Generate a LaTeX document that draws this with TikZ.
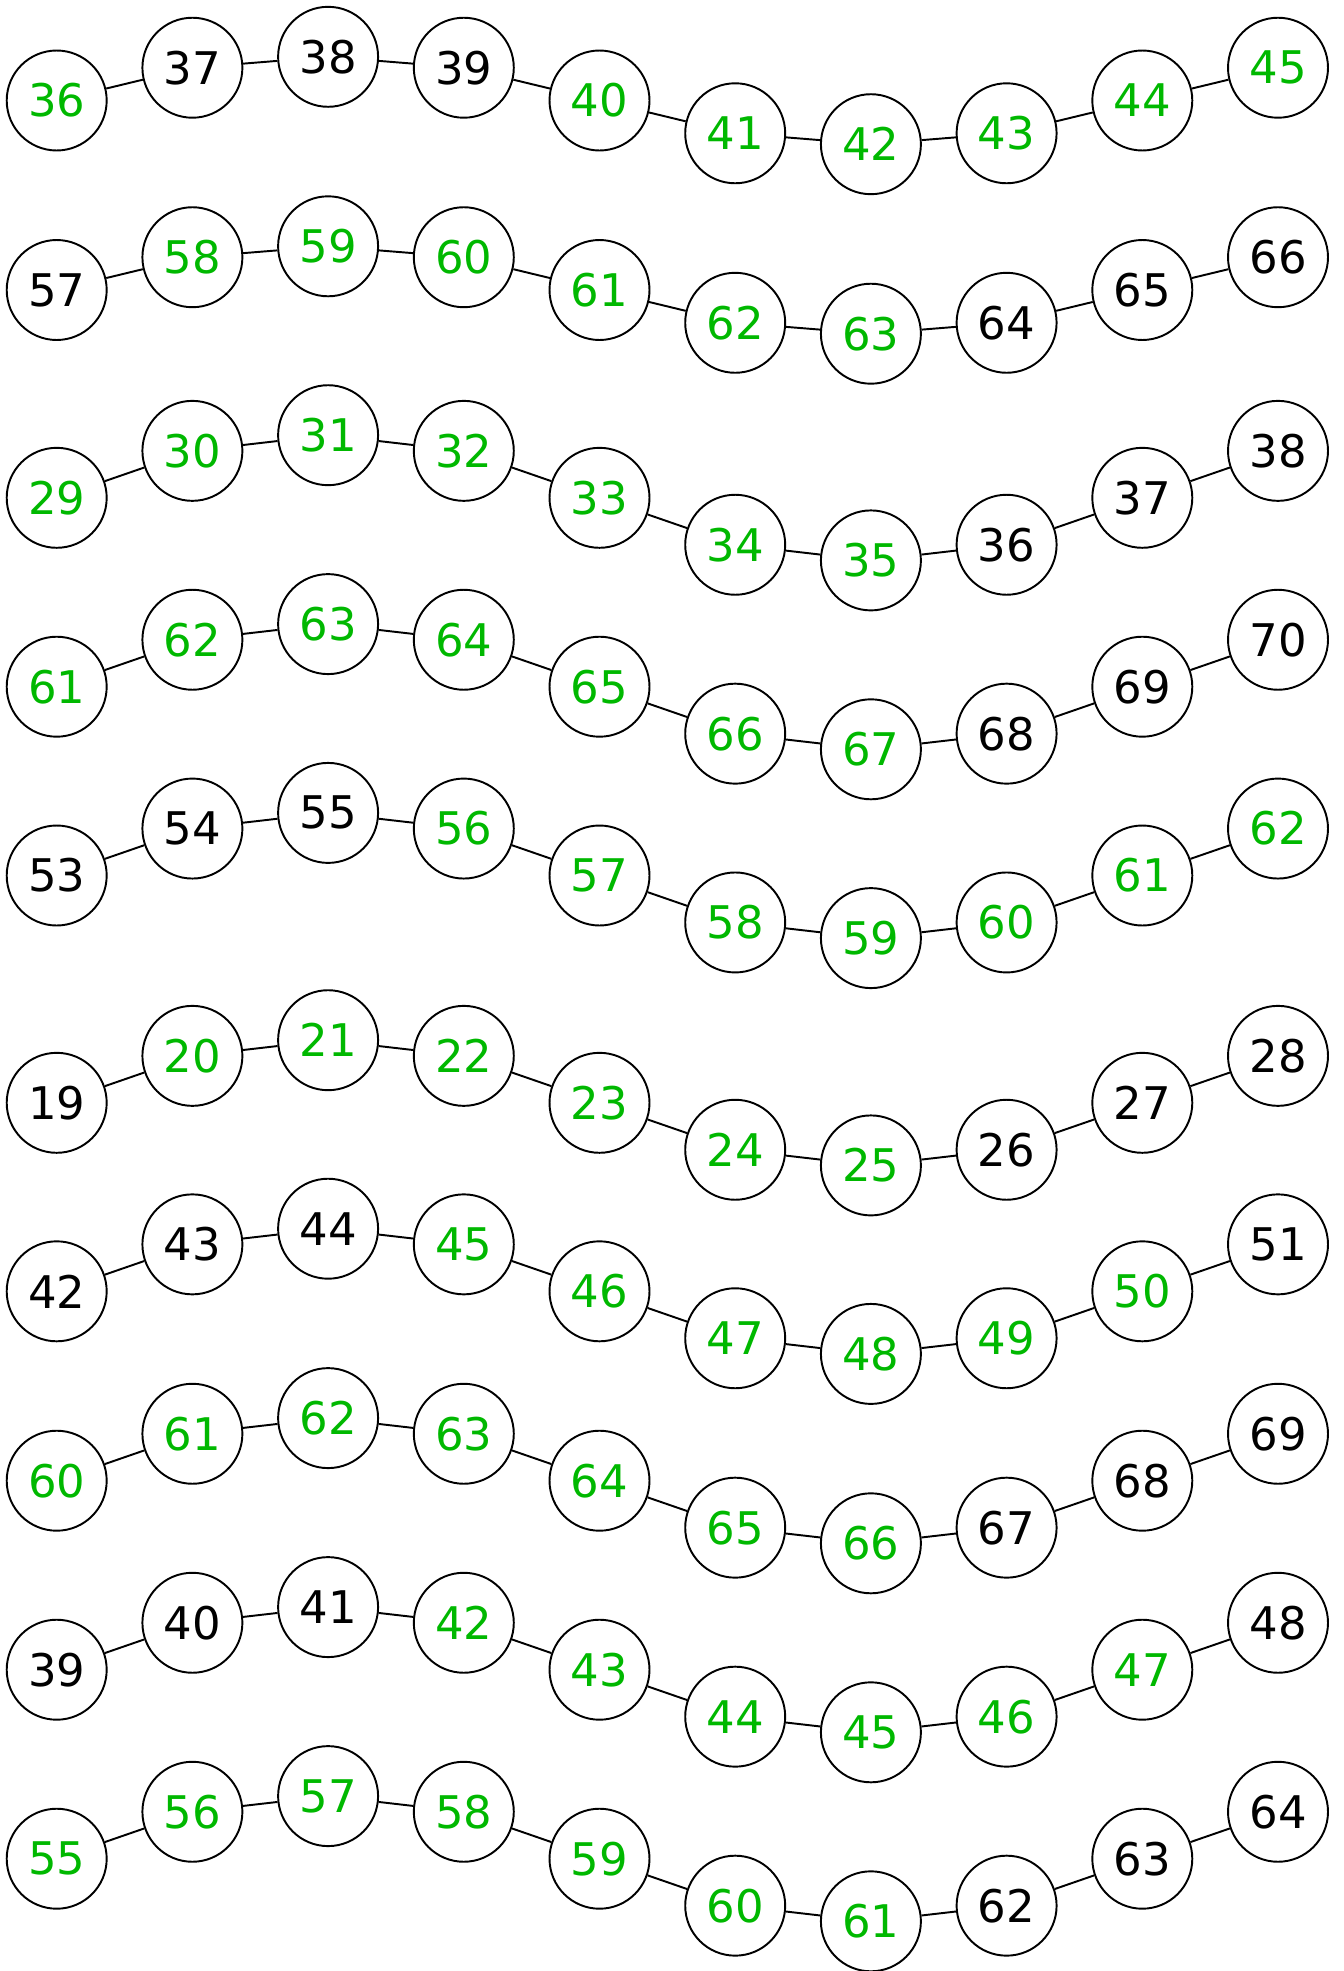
\documentclass[tikz,border=0pt]{standalone}
\usepackage{fontspec}
\setmainfont{DejaVu Sans}
\usepackage{xcolor}
\usepackage{tikz}
\definecolor{grn}{HTML}{00B800}
\colorlet{blk}{black}
%% vertical shape of every chain (fraction of the row amplitude)
\def\wavelist{{0,-0.75,-1,-0.75,0,0.75,1,0.75,0,-0.75}}

\begin{document}
\begin{tikzpicture}[x=0.02cm,y=-0.02cm,
        num/.style={circle,draw,line width=1.1pt,fill=white,
                    minimum size=2cm,inner sep=0pt,
                    font=\fontsize{25.6}{30}\selectfont},
        link/.style={line width=1.1pt}]
      \useasboundingbox (0,0) rectangle (1344,1971);
      %% ── rows: base y / amplitude / first number / colour of each ──
      \foreach \r/\yb/\amp/\first/\mask in {
          1/100.5/43.7/36/{grn,blk,blk,blk,grn,grn,grn,grn,grn,grn},
          2/290.0/43.7/57/{blk,grn,grn,grn,grn,grn,grn,blk,blk,blk},
          3/497.8/62.6/29/{grn,grn,grn,grn,grn,grn,grn,blk,blk,blk},
          4/686.7/62.6/61/{grn,grn,grn,grn,grn,grn,grn,blk,blk,blk},
          5/875.5/62.6/53/{blk,blk,blk,grn,grn,grn,grn,grn,grn,grn},
          6/1102.8/62.6/19/{blk,grn,grn,grn,grn,grn,grn,blk,blk,blk},
          7/1291.3/62.6/42/{blk,blk,blk,grn,grn,grn,grn,grn,grn,blk},
          8/1480.7/62.6/60/{grn,grn,grn,grn,grn,grn,grn,blk,blk,blk},
          9/1669.7/62.6/39/{blk,blk,blk,grn,grn,grn,grn,grn,grn,blk},
          10/1858.7/62.6/55/{grn,grn,grn,grn,grn,grn,grn,blk,blk,blk}}{
        %% ── circles of the row ──────────────────────────────
        \foreach \c [count=\i from 0] in \mask {
          \pgfmathsetmacro\xx{56.7+135.7*\i}
          \pgfmathsetmacro\yy{\yb+\amp*\wavelist[\i]}
          \node[num,text=\c] (n-\r-\i) at (\xx,\yy) {\the\numexpr\first+\i\relax};
        }
        %% ── links between neighbours ────────────────────────
        \foreach \i [count=\j from 0] in {1,...,9}
          \draw[link] (n-\r-\j) -- (n-\r-\i);
      }
\end{tikzpicture}
\end{document}
